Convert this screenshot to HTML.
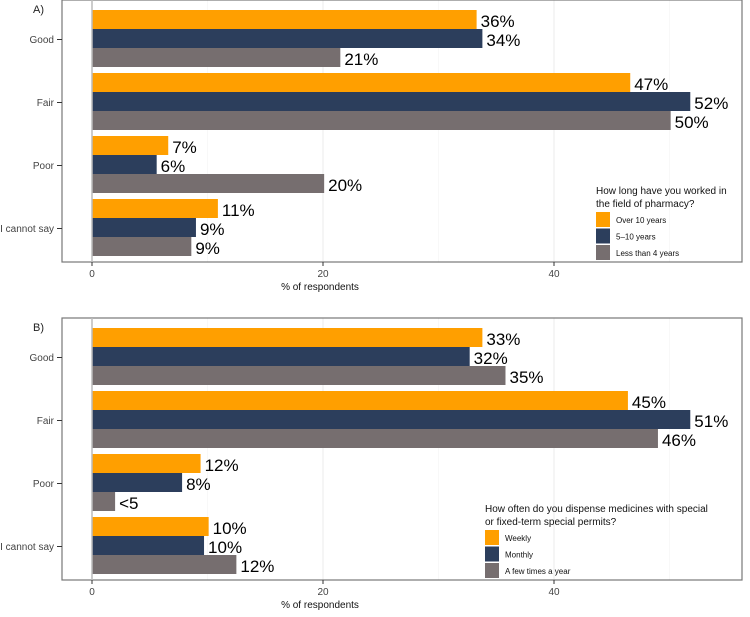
<!DOCTYPE html>
<html><head><meta charset="utf-8"><style>
body{margin:0;background:#fff;font-family:"Liberation Sans",sans-serif}
svg text{font-family:"Liberation Sans",sans-serif}
</style></head><body>
<svg id="chart" width="750" height="612" xmlns="http://www.w3.org/2000/svg"></svg>
<script>
const categories = ["Good","Fair","Poor","I cannot say"];
const seriesA_over10 = [33.3, 46.6, 6.6, 10.9];
const seriesA_5to10 = [33.8, 51.8, 5.6, 9.0];
const seriesA_less4 = [21.5, 50.1, 20.1, 8.6];
const labelsA_over10 = ["36%","47%","7%","11%"];
const labelsA_5to10 = ["34%","52%","6%","9%"];
const labelsA_less4 = ["21%","50%","20%","9%"];
const seriesB_weekly = [33.8, 46.4, 9.4, 10.1];
const seriesB_monthly = [32.7, 51.8, 7.8, 9.7];
const seriesB_fewyear = [35.8, 49.0, 2.0, 12.5];
const labelsB_weekly = ["33%","45%","12%","10%"];
const labelsB_monthly = ["32%","51%","8%","10%"];
const labelsB_fewyear = ["35%","46%","<5","12%"];
const xTicks = [0, 20, 40];
const colors = ["#FF9F00","#2C3E5C","#766E6F"];
const NS="http://www.w3.org/2000/svg";
const svg=document.getElementById('chart');
function mk(tag,attrs,parent,txt){const e=document.createElementNS(NS,tag);for(const k in attrs)e.setAttribute(k,attrs[k]);if(txt!==undefined)e.textContent=txt;(parent||svg).appendChild(e);return e;}
const x=v=>92+v*11.55;
function panel(id,top,series,labels,letter,legTitle,legLabels,legX){
  const g=mk('g',{});
  
  
  const bottom=top+262;
  for(let v=0;v<=60;v+=10){if(x(v)<742){const l=mk('line',{x1:x(v),x2:x(v),y1:top,y2:bottom,stroke:v%20===0?'#ebebeb':'#f4f4f4','stroke-width':v%20===0?1:0.6},g);
    }}
  const fr=mk('rect',{x:62,y:top,width:680,height:262,fill:'none',stroke:'#777','stroke-width':1.2},g);
  
  const lt=mk('text',{x:33,y:top+13,'font-size':11,fill:'#222'},g,letter);
  
  categories.forEach((c,i)=>{
    const gy=top+10+i*63;
    const t=mk('text',{x:54,y:gy+33,'font-size':10,fill:'#444','text-anchor':'end'},g,c);
    
    mk('line',{x1:57,x2:62,y1:gy+29.5,y2:gy+29.5,stroke:'#333'},g);
    series.forEach((s,j)=>{
      const y=gy+j*19;
      const r=mk('rect',{x:92,y:y,width:x(s[i])-92,height:19,fill:colors[j]},g);
      
      
      const lb=mk('text',{x:x(s[i])+4,y:y+17,'font-size':17,fill:'#000'},g,labels[j][i]);
      
    });
  });
  mk('line',{x1:92,x2:92,y1:top,y2:bottom,stroke:'#bbb','stroke-width':1.5},g);
  xTicks.forEach(v=>{
    mk('line',{x1:x(v),x2:x(v),y1:bottom,y2:bottom+4,stroke:'#333'},g);
    const t=mk('text',{x:x(v),y:bottom+15,'font-size':10,fill:'#444','text-anchor':'middle'},g,String(v));
    
  });
  const xt=mk('text',{x:320,y:bottom+28,'font-size':10,fill:'#111','text-anchor':'middle'},g,'% of respondents');
  
  const lg=mk('g',{},g);
  
  legTitle.forEach((tl,k)=>mk('text',{x:legX,y:top+194+k*13,'font-size':10,fill:'#111'},lg,tl));
  legLabels.forEach((l,k)=>{
    const ky=top+212+k*16.5;
    const sq=mk('rect',{x:legX,y:ky,width:14,height:15,fill:colors[k]},lg);
    
    const t=mk('text',{x:legX+20,y:ky+11,'font-size':8,fill:'#111'},lg,l);
    
  });
}
panel('a',0,[seriesA_over10,seriesA_5to10,seriesA_less4],[labelsA_over10,labelsA_5to10,labelsA_less4],'A)',
  ['How long have you worked in','the field of pharmacy?'],['Over 10 years','5–10 years','Less than 4 years'],596);
panel('b',318,[seriesB_weekly,seriesB_monthly,seriesB_fewyear],[labelsB_weekly,labelsB_monthly,labelsB_fewyear],'B)',
  ['How often do you dispense medicines with special','or fixed-term special permits?'],['Weekly','Monthly','A few times a year'],485);
</script>
</body></html>
